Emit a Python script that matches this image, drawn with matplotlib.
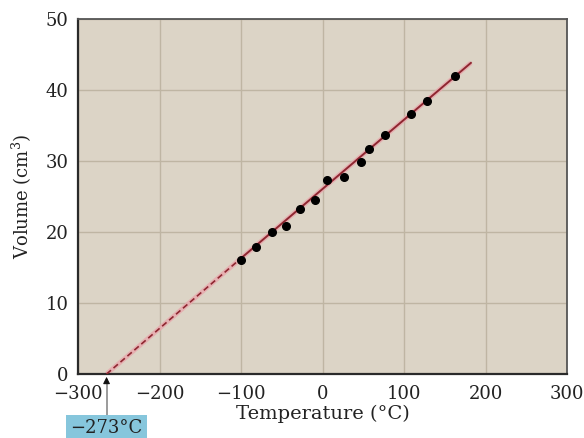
import matplotlib
matplotlib.use("Agg")
import matplotlib.pyplot as plt

# ── Data ──────────────────────────────────────────────────────────────────────
temps = [-100, -82, -62, -45, -28, -9, 5, 26, 47, 57, 77, 108, 128, 163]
volumes = [16.1, 17.9, 20.0, 20.9, 23.3, 24.5, 27.3, 27.7, 29.9, 31.7, 33.7, 36.6, 38.5, 42.0]

# fitted line as drawn: zero crossing, start of measured range, upper end
line_t = [-265, -100, 182]
line_v = [0.0, 16.3, 43.8]

x_ticks = [-300, -200, -100, 0, 100, 200, 300]
y_ticks = [0, 10, 20, 30, 40, 50]

# ── Style ─────────────────────────────────────────────────────────────────────
FONT = ["DejaVu Serif"]
BG = "#dcd4c6"
GRID = "#bfb5a3"
RED = "#8f2630"
HALO = "#e7aaae"

plt.rcParams["font.family"] = FONT
plt.rcParams["mathtext.fontset"] = "dejavuserif"

fig = plt.figure(figsize=(5.84, 4.38), dpi=100)
ax = fig.add_axes([0.1336, 0.146, 0.8374, 0.811])
ax.set_facecolor(BG)

ax.set_xlim(-300, 300)
ax.set_ylim(0, 50)
ax.set_xticks(x_ticks)
ax.set_yticks(y_ticks)
ax.set_xticklabels([str(t).replace("-", "\u2212") for t in x_ticks])
ax.tick_params(length=0, labelsize=13, colors="#222222")
ax.tick_params(axis="x", pad=8)
ax.tick_params(axis="y", pad=7)
ax.grid(True, color=GRID, lw=1.0)
ax.set_axisbelow(True)

for side in ("left", "bottom"):
    ax.spines[side].set_color("#2a2a2a")
    ax.spines[side].set_linewidth(1.6)
for side in ("top", "right"):
    ax.spines[side].set_color("#555555")
    ax.spines[side].set_linewidth(1.3)

# ── Line: halo + dashed extrapolation + solid measured part ──────────────────
ax.plot(line_t, line_v, color=HALO, lw=3.4, alpha=0.85, zorder=2,
        solid_capstyle="butt")
ax.plot(line_t[:2], line_v[:2], color=RED, lw=1.2, ls=(0, (3.5, 2)), zorder=3)
ax.plot(line_t[1:], line_v[1:], color=RED, lw=1.4, zorder=3)

ax.plot(temps, volumes, "o", color="black", ms=5.5, zorder=4)

# ── Labels ───────────────────────────────────────────────────────────────────
ax.set_xlabel("Temperature (°C)", fontsize=14, labelpad=1, color="#222222")
ax.set_ylabel("Volume (cm$^3$)", fontsize=13, labelpad=8, color="#222222")

# ── −273 °C callout: gray shaft, black head ──────────────────────────────────
ax.plot([line_t[0], line_t[0]], [-5.8, -0.8], color="#808080", lw=1.1,
        clip_on=False, zorder=5)
ax.annotate("", xy=(line_t[0], 0.0), xytext=(line_t[0], -1.6),
            arrowprops=dict(arrowstyle="-|>", color="#111111", lw=0.8,
                            mutation_scale=10),
            annotation_clip=False, zorder=5)
ax.text(line_t[0], -7.6, "\u2212273°C", ha="center", va="center",
        fontsize=13, color="#222222", transform=ax.transData,
        bbox=dict(boxstyle="square,pad=0.22", facecolor="#86c6dc",
                  edgecolor="none"), clip_on=False, zorder=6)

fig.savefig("out.png", dpi=100, facecolor="white")
